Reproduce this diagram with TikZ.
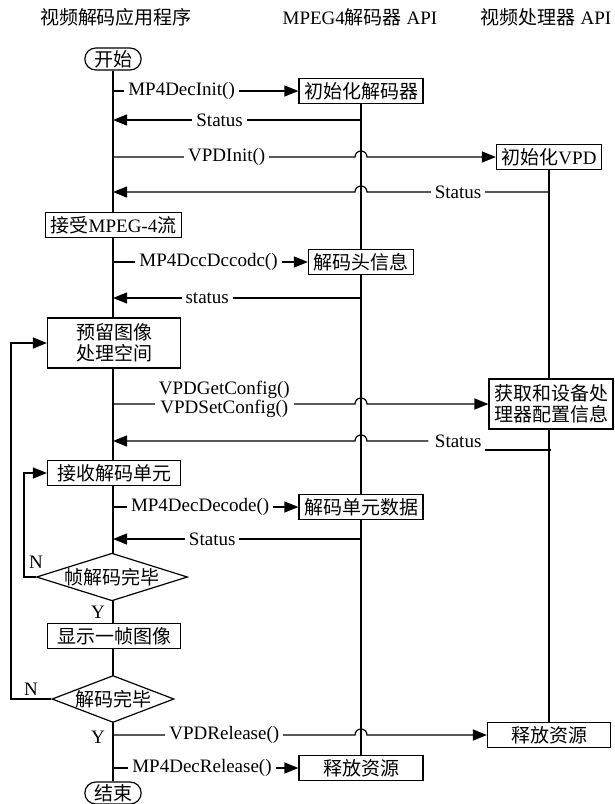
\documentclass[tikz,border=0pt]{standalone}
\usepackage{fontspec}
\setmainfont{Liberation Serif}
\newfontfamily\cjk{Noto Sans CJK SC}
\usetikzlibrary{shapes.misc,shapes.geometric,arrows.meta,backgrounds}
\newcommand\zh[1]{{\cjk #1}}
\begin{document}
\begin{tikzpicture}[x=1pt,y=-1pt,
  font=\fontsize{19}{20}\selectfont,
  ln/.style={line width=1.2pt},
  arr/.style={ln,-{Triangle[length=14pt,width=11pt]}},
  box/.style={draw,fill=white,line width=1.2pt,minimum height=25pt,inner xsep=5pt,inner ysep=1pt},
  lbox/.style={box,minimum width=133pt},
  term/.style={draw,fill=white,line width=1.2pt,rounded rectangle,minimum width=63pt,minimum height=22pt,inner ysep=0pt},
  dec/.style={draw,fill=white,line width=1.2pt,diamond,inner sep=0pt},
  lab/.style={fill=white,inner xsep=4pt,inner ysep=1pt}]
\useasboundingbox (0,0) rectangle (614,804);
% headers
\node (h1) at (116,17) {\zh{视频解码应用程序}};
\node (h2) at (360,17) {MPEG4\zh{解码器} API};
\node (h3) at (546,17) {\zh{视频处理器} API};
% nodes
\node[term] (start) at (113,59) {\zh{开始}};
\node[box] (idec) at (361,91) {\zh{初始化解码器}};
\node[box] (ivpd) at (549,157) {\zh{初始化}VPD};
\node[box] (acc) at (113.5,225) {\zh{接受}MPEG-4\zh{流}};
\node[box] (hdr) at (361,262) {\zh{解码头信息}};
\node[lbox,align=center,minimum height=50pt,font=\fontsize{19}{21}\selectfont] (res) at (114,343) {\zh{预留图像}\\\zh{处理空间}};
\node[box,align=center,minimum height=50pt,font=\fontsize{19}{21}\selectfont] (cfg) at (551,404) {\zh{获取和设备处}\\\zh{理器配置信息}};
\node[lbox] (recv) at (114,473) {\zh{接收解码单元}};
\node[box] (unit) at (361,507) {\zh{解码单元数据}};
\node[dec,aspect=3.17] (fd) at (112,577) {\zh{帧解码完毕}};
\node[lbox] (show) at (114,636) {\zh{显示一帧图像}};
\node[dec,aspect=2.6] (ad) at (113,699) {\zh{解码完毕}};
\node[box,minimum width=123pt] (rvpd) at (549,735) {\zh{释放资源}};
\node[box,minimum width=124pt] (rdec) at (361,768) {\zh{释放资源}};
\node[term] (end) at (113,793) {\zh{结束}};
% lifelines
\begin{pgfonlayer}{background}
\draw[ln] (start.south) -- (end.north);
\draw[ln] (idec.south) -- (rdec.north);
\draw[ln] (ivpd.south) -- (rvpd.north);
\end{pgfonlayer}
% messages
\draw[arr] (start.south |- idec.west) -- node[lab,pos=0.37]{MP4DecInit()} (idec.west);
\draw[arr] (idec.south |- 0,120) -- node[lab,pos=0.57]{Status} (start.south |- 0,120);
\draw[arr] (start.south |- ivpd.west) -- node[lab,pos=0.47]{VPDInit()} (355,157)
   arc[start angle=180,end angle=0,radius=6pt] -- (ivpd.west);
\draw[arr] (ivpd.south |- 0,192) -- node[lab,pos=0.5]{Status} (367,192)
   arc[start angle=0,end angle=180,radius=6pt] -- (start.south |- 0,192);
\draw[arr] (start.south |- hdr.west) -- node[lab,pos=0.49]{MP4DccDccodc()} (hdr.west);
\draw[arr] (hdr.south |- 0,298) -- node[lab,pos=0.62]{status} (start.south |- 0,298);
\draw[arr] (start.south |- cfg.west) -- node[lab,pos=0.46,align=center,yshift=5pt,font=\fontsize{19}{19}\selectfont]{VPDGetConfig()\\VPDSetConfig()} (355,404)
   arc[start angle=180,end angle=0,radius=6pt] -- (cfg.west);
\draw[ln] (cfg.south |- 0,450) -- (485,450) node[anchor=east,yshift=9pt,inner xsep=3pt] (st4) {Status};
\draw[arr] (st4.west) ++(-3,0) -- (367,441)
   arc[start angle=0,end angle=180,radius=6pt] -- (start.south |- 0,441);
\draw[arr] (start.south |- unit.west) -- node[lab,pos=0.47]{MP4DecDecode()} (unit.west);
\draw[arr] (unit.south |- 0,539) -- node[lab,pos=0.6]{Status} (start.south |- 0,539);
\draw[arr] (start.south |- rvpd.west) -- node[lab,pos=0.46]{VPDRelease()} (355,735)
   arc[start angle=180,end angle=0,radius=6pt] -- (rvpd.west);
\draw[arr] (start.south |- rdec.west) -- node[lab,pos=0.48]{MP4DecRelease()} (rdec.west);
% loops
\draw[arr] (fd.west) -- (24,577) -- (24,473) -- (recv.west);
\draw[arr] (ad.west) -- (11,699) -- (11,343) -- (res.west);
\node (n1) at (36,562) {N};
\node (y1) at (98,612) {Y};
\node (n2) at (31,689) {N};
\node (y2) at (98,737) {Y};
\end{tikzpicture}
\end{document}
